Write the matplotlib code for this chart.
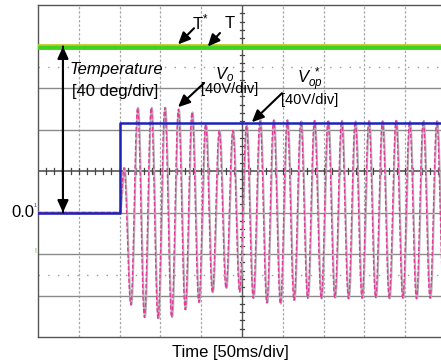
import numpy as np
import matplotlib
matplotlib.use("Agg")
import matplotlib.pyplot as plt

plt.rcParams['font.family'] = ['Liberation Sans', 'DejaVu Sans']
plt.rcParams['mathtext.fontset'] = 'custom'
plt.rcParams['mathtext.rm'] = 'Liberation Sans'
plt.rcParams['mathtext.it'] = 'Liberation Sans:italic'

# ---- data (time in ms, voltage in V, temperature in deg) ----
t_step = 100.0            # step instant of the voltage reference
vop_ref_before = 0.0
vop_ref_after = 86.0      # Vop* amplitude after the step
temp_T = 159.5            # measured temperature
temp_Tref = 161.0         # temperature reference
freq_hz = 60.0
t_first_ext = 105.4       # time of first Vo extremum after step
vo_extrema = [43, -89, 101, -101, 101, -102, 101, -101, 99.5, -93.5,
              96.5, -86.5, 85, -77, 79, -73, 79, -76.5, 84, -82.5,
              89, -87, 89, -88, 89, -84.5, 88, -82.5, 88.5, -83,
              88, -82, 88.5, -83, 88, -82.5, 88.5, -82, 88, -83,
              88.5, -82.5, 88, -83, 88.5, -82.5, 88, -83]

W, H = 441, 363
fig = plt.figure(figsize=(W / 100, H / 100), dpi=100)
ax = fig.add_axes([38 / W, (H - 337) / H, 408 / W, 332 / H])
ax.set_xlim(0, 500)
ax.set_ylim(-120, 200)
ax.set_xticks([])
ax.set_yticks([])
for side in ['left', 'top', 'bottom', 'right']:
    ax.spines[side].set_color('#555555')
    ax.spines[side].set_linewidth(1.0)

# grid
for xv in np.arange(50, 500, 50):
    if xv == 250:
        ax.axvline(xv, color='#555555', lw=1.0, zorder=1)
    else:
        ax.axvline(xv, color='#a8a8a8', lw=0.9, ls=(0, (2, 1.5)), zorder=1)
for yv in np.arange(-80, 200, 40):
    if yv == 40:
        ax.axhline(yv, color='#444444', lw=1.1, zorder=1)
    else:
        ax.axhline(yv, color='#8a8a8a', lw=1.0, zorder=1)
for yv in [140, -60]:
    ax.axhline(yv, color='#9a9a9a', lw=1.0, ls=(0, (1, 6)), zorder=1)
# ticks on the centre lines
for xv in np.arange(10, 500, 10):
    ax.plot([xv, xv], [40 - 2.5, 40 + 2.5], color='#444444', lw=0.9, zorder=1)
for yv in np.arange(-112, 200, 8):
    ax.plot([250 - 2.0, 250 + 2.0], [yv, yv], color='#444444', lw=0.9, zorder=1)

# Vo waveform
half = 1000.0 / freq_hz / 2
ext_t = np.concatenate([[t_step], t_first_ext + np.arange(len(vo_extrema)) * half])
ext_v = np.concatenate([[0.0], vo_extrema])
ts, vs = [0.0, t_step], [0.0, 0.0]
s = np.linspace(0, 1, 14)[1:]
for i in range(len(ext_t) - 1):
    a, b = ext_v[i], ext_v[i + 1]
    ts.extend(ext_t[i] + (ext_t[i + 1] - ext_t[i]) * s)
    vs.extend(a + (b - a) * (1 - np.cos(np.pi * s)) / 2)
ts = np.array(ts)
vs = np.array(vs)
ax.plot(ts + 0.7, vs, color='#b4b4b4', lw=1.4, zorder=3)
ax.plot(ts, vs, color='#e6399b', lw=1.0, zorder=4, dashes=(3, 1.5))

# Vop* reference step
ax.plot([0, t_step, t_step, 500], [vop_ref_before, vop_ref_before, vop_ref_after, vop_ref_after],
        color='#1c22b8', lw=1.8, zorder=5)

# temperatures
ax.axhline(temp_T, color='#3fd21e', lw=3.5, zorder=5)
ax.axhline(temp_Tref, color='#c4c41a', lw=1.2, zorder=6)

# annotations
arr = dict(arrowstyle='-|>,head_length=0.55,head_width=0.25', color='black', lw=1.5,
           mutation_scale=13, shrinkA=0, shrinkB=0)
ax.annotate('', xy=(30.6, 160), xytext=(30.6, 0), arrowprops=arr, zorder=7)
ax.annotate('', xy=(30.6, 0), xytext=(30.6, 160), arrowprops=arr, zorder=7)
ax.text(95.6, 138, 'Temperature', style='italic', fontsize=12, ha='center', va='center', zorder=8)
ax.text(94.4, 117, '[40 deg/div]', fontsize=12, ha='center', va='center', zorder=8)

ax.annotate('', xy=(171.6, 162), xytext=(191.2, 177.6), arrowprops=arr, zorder=7)
ax.text(198.5, 183.4, r'T$^{*}$', fontsize=12, ha='center', va='center', zorder=8)
ax.annotate('', xy=(208, 160), xytext=(223, 173), arrowprops=arr, zorder=7)
ax.text(235, 182, 'T', fontsize=12, ha='center', va='center', zorder=8)

ax.annotate('', xy=(171.6, 101.5), xytext=(203.4, 124.7), arrowprops=arr, zorder=7)
ax.text(229, 133, r'$V_o$', fontsize=12, ha='center', va='center', zorder=8)
ax.text(235, 118.6, '[40V/div]', fontsize=10.5, ha='center', va='center', zorder=8)

ax.annotate('', xy=(262, 87), xytext=(299, 115), arrowprops=arr, zorder=7)
ax.text(333, 128, r'$V_{op}^{\ *}$', fontsize=12, ha='center', va='center', zorder=8)
ax.text(333, 108.4, '[40V/div]', fontsize=10.5, ha='center', va='center', zorder=8)

ax.text(-4.5, 0, '0.0', fontsize=12, ha='right', va='center', clip_on=False)
ax.text(-1.5, 7, '1', fontsize=4, color='#3030c0', ha='right', va='center', clip_on=False)
ax.text(-1.5, -38, '!', fontsize=5, color='#40c020', ha='right', va='center', clip_on=False)

fig.text(230 / W, 1 - 352 / H, 'Time [50ms/div]', fontsize=12, ha='center', va='center')

fig.savefig('out.png', dpi=100)
